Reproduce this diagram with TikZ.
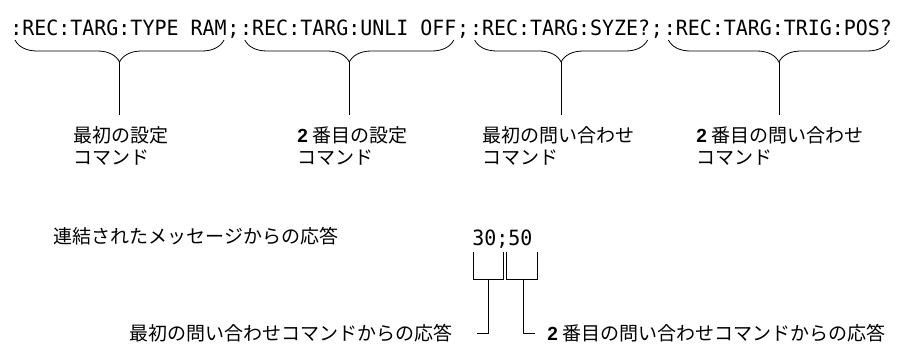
\documentclass[tikz,border=0pt]{standalone}
\usepackage{fontspec}
\usepackage{tikz}
\usetikzlibrary{calc, positioning, decorations.pathreplacing}
\newfontfamily\cmdfont[FakeStretch=0.95]{DejaVu Sans Mono}
\newfontfamily\jpfont{Noto Sans CJK JP}
\newfontfamily\numfont{Liberation Sans}
\newcommand{\ordnum}[1]{{\numfont\bfseries #1}}

\begin{document}
\begin{tikzpicture}[x=1pt, y=-1pt, line width=0.8pt,
  cmd/.style={inner sep=0pt, anchor=base west, font=\cmdfont\fontsize{21}{24}\selectfont},
  note/.style={inner sep=0pt, align=left, font=\jpfont\fontsize{19}{22.5}\selectfont},
  curly/.style={decorate, decoration={brace, mirror, amplitude=22pt}}]
  \useasboundingbox (0,0) rectangle (899,345);

  % Concatenated message
  \node[cmd] (cmdA) at (10,36) {:REC:TARG:TYPE RAM};
  \node[cmd] (semA) at (cmdA.base east) {;};
  \node[cmd] (cmdB) at (semA.base east) {:REC:TARG:UNLI OFF};
  \node[cmd] (semB) at (cmdB.base east) {;};
  \node[cmd] (cmdC) at (semB.base east) {:REC:TARG:SYZE?};
  \node[cmd] (semC) at (cmdC.base east) {;};
  \node[cmd] (cmdD) at (semC.base east) {:REC:TARG:TRIG:POS?};

  % Braces with stems
  \foreach \c in {cmdA,cmdB,cmdC,cmdD} {
    \coordinate (\c-l) at ($(\c.base west)+(5,4)$);
    \coordinate (\c-r) at ($(\c.base east)+(-3,4)$);
    \coordinate (\c-tip) at ($(\c-l)!0.5!(\c-r)+(0,22)$);
    \coordinate (\c-end) at (\c-tip |- 0,115);
    \draw[curly] (\c-l) -- (\c-r);
    \draw (\c-tip) -- (\c-end);
  }

  % Command labels
  \node[note, anchor=north west] (noteA) at (73,126) {最初の設定\\コマンド};
  \node[note, anchor=north west] (noteB) at (297,126) {\ordnum{2} 番目の設定\\コマンド};
  \node[note, anchor=north west] (noteC) at (482,126) {最初の問い合わせ\\コマンド};
  \node[note, anchor=north west] (noteD) at (696,126) {\ordnum{2} 番目の問い合わせ\\コマンド};

  % Response
  \node[note, anchor=north west] (concat) at (53,227) {連結されたメッセージからの応答};
  \node[cmd] (resp) at (472,245) {30;50};
  \node[note, anchor=north east] (ansA) at (453,324) {最初の問い合わせコマンドからの応答};
  \node[note, anchor=north west] (ansB) at (547,324) {\ordnum{2} 番目の問い合わせコマンドからの応答};

  \coordinate (brA) at (488,279);
  \coordinate (brB) at (523,279);
  \draw (473,252) -- (473,279) -- (503,279) -- (503,252);
  \draw (506,252) -- (506,279) -- (537,279) -- (537,252);
  \draw (brA) |- ([xshift=24pt]ansA.east);
  \draw (brB) |- ([xshift=-12pt]ansB.west);
\end{tikzpicture}
\end{document}
